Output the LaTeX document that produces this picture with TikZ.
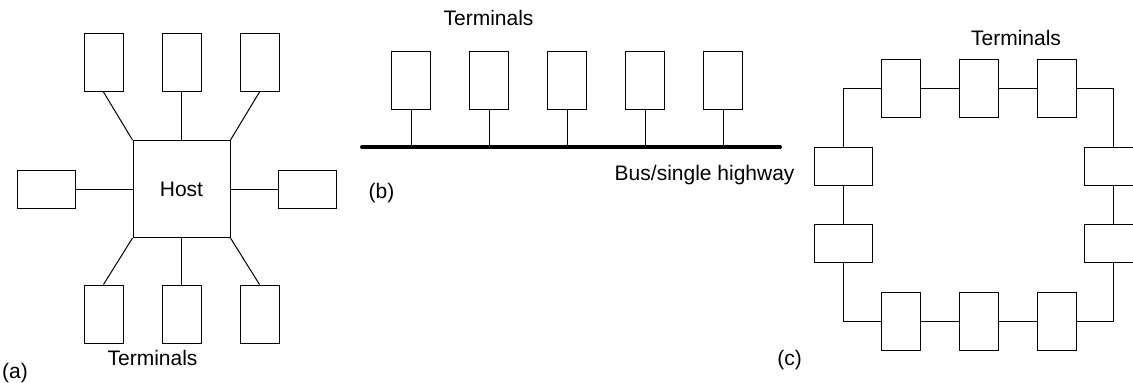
\documentclass[tikz,border=0pt]{standalone}
\usepackage{fontspec}
\setmainfont{Liberation Sans}
\usetikzlibrary{positioning}
\tikzset{
  term/.style={draw,inner sep=0pt,minimum width=39pt,minimum height=58pt},
  termw/.style={draw,inner sep=0pt,minimum width=58pt,minimum height=38pt},
  hostbox/.style={draw,inner sep=0pt,minimum size=97pt,font=\fontsize{21}{25}\selectfont},
  lbl/.style={inner sep=0pt,font=\fontsize{21}{25}\selectfont},
  bus/.style={line width=4pt,line cap=round},
}

\begin{document}
\begin{tikzpicture}[x=1pt,y=-1pt,line width=1pt,node distance=38pt]
  \useasboundingbox (0,0) rectangle (1133,383);
  % (a) star
  \node[hostbox] (host) at (181.5,189) {Host};
  \node[term] (at2) at (181.5,62.5) {};
  \node[term,left=of at2] (at1) {};
  \node[term,right=of at2] (at3) {};
  \node[term] (ab2) at (181.5,314) {};
  \node[term,left=of ab2] (ab1) {};
  \node[term,right=of ab2] (ab3) {};
  \node[termw] (al) at (46,189) {};
  \node[termw] (ar) at (307,189) {};
  \node[lbl] (termA) at (152.5,358) {Terminals};
  \node[lbl] (capA) at (15,373) {(a)};

  \draw (at1.south) -- (host.north west);
  \draw (at2.south) -- (host.north);
  \draw (at3.south) -- (host.north east);
  \draw (al.east) -- (host.west);
  \draw (ar.west) -- (host.east);
  \draw (ab1.north) -- (host.south west);
  \draw (ab2.north) -- (host.south);
  \draw (ab3.north) -- (host.south east);

  % (b) bus
  \node[term] (bt1) at (411,80) {};
  \node[term,right=of bt1] (bt2) {};
  \node[term,right=of bt2] (bt3) {};
  \node[term,right=of bt3] (bt4) {};
  \node[term,right=of bt4] (bt5) {};
  \coordinate (busL) at (362,147);
  \coordinate (busR) at (780,147);
  \node[lbl] (termB) at (488.5,18) {Terminals};
  \node[lbl,anchor=east] (busname) at (795,175) {Bus/single highway};
  \node[lbl] (capB) at (381.5,193) {(b)};

  \draw[bus] (busL) -- (busR);
  \foreach \t in {bt1,bt2,bt3,bt4,bt5}
    \draw (\t.south) -- (\t.south |- busL);

  % (c) ring
  \node[term] (ct1) at (901,88.5) {};
  \node[term,right=of ct1] (ct2) {};
  \node[term,right=of ct2] (ct3) {};
  \node[term] (cb1) at (901,321.5) {};
  \node[term,right=of cb1] (cb2) {};
  \node[term,right=of cb2] (cb3) {};
  \node[termw] (cl1) at (843.5,166) {};
  \node[termw] (cl2) at (843.5,243.5) {};
  \node[termw] (cr1) at (1113,166) {};
  \node[termw] (cr2) at (1113,243.5) {};
  \node[lbl] (termC) at (1016,38) {Terminals};
  \node[lbl] (capC) at (789.5,360) {(c)};

  \draw (cl1.north) |- (ct1.west);
  \draw (ct1.east) -- (ct2.west) (ct2.east) -- (ct3.west);
  \draw (ct3.east) -| (cr1.north);
  \draw (cr1.south) -- (cr2.north);
  \draw (cr2.south) |- (cb3.east);
  \draw (cb3.west) -- (cb2.east) (cb2.west) -- (cb1.east);
  \draw (cb1.west) -| (cl2.south);
  \draw (cl2.north) -- (cl1.south);
\end{tikzpicture}
\end{document}
